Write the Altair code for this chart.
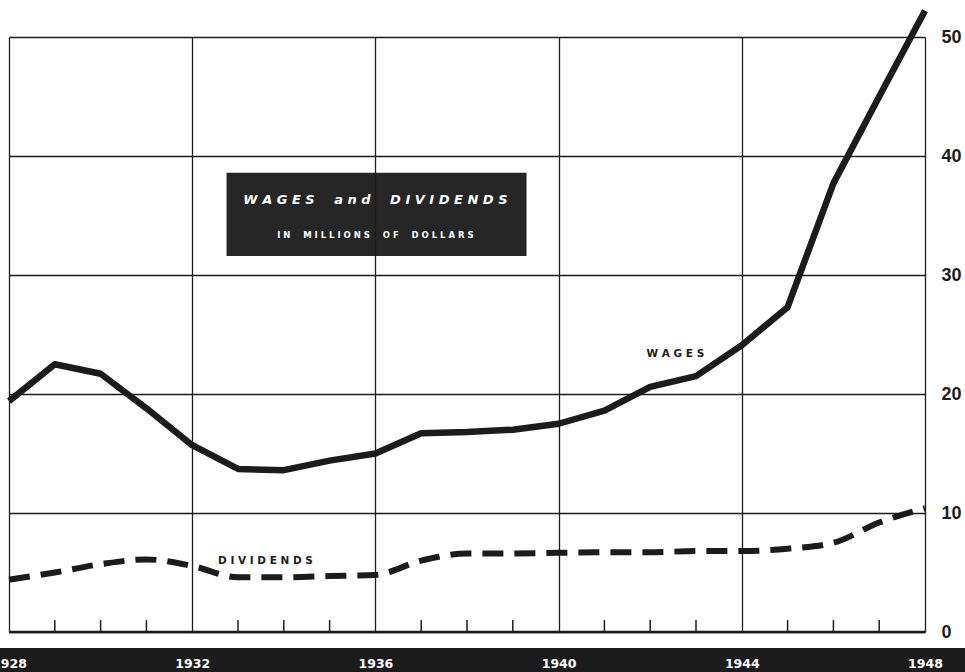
import altair as alt
import pandas as pd

# Annual figures, in millions of dollars
years = list(range(1928, 1949))
wages = [19.4, 22.5, 21.7, 18.8, 15.7, 13.7, 13.6, 14.4, 15.0, 16.7, 16.8,
         17.0, 17.5, 18.6, 20.6, 21.5, 24.1, 27.3, 37.7, 45.0, 52.2]
dividends = [4.4, 5.0, 5.7, 6.1, 5.55, 4.6, 4.6, 4.7, 4.8, 6.0, 6.6,
             6.6, 6.65, 6.7, 6.7, 6.8, 6.8, 7.0, 7.5, 9.2, 10.4]

grid_years = [1928, 1932, 1936, 1940, 1944, 1948]
minor_years = [y for y in years if y not in grid_years]
y_ticks = [0, 10, 20, 30, 40, 50]

INK = "#1c1c1c"
NARROW = "Liberation Sans, Arial, sans-serif"
SANS = "DejaVu Sans, sans-serif"

LETTER_GAP = "\u00a0"
WORD_GAP = "\u2003\u2002"


def spaced(*words):
    return WORD_GAP.join(LETTER_GAP.join(w) for w in words)


df = pd.DataFrame({"year": years, "wages": wages, "dividends": dividends})

x_scale = alt.Scale(domain=[1928, 1948], nice=False, zero=False)
y_scale = alt.Scale(domain=[0, 50], nice=False)

x_enc = alt.X(
    "year:Q",
    scale=x_scale,
    axis=alt.Axis(
        values=grid_years, format="d", title=None, domain=False, ticks=False,
        grid=True, gridColor=INK, gridWidth=1.3, gridOpacity=1,
        labelColor="white", labelFont=SANS, labelFontWeight="bold",
        labelFontSize=12.5, labelPadding=31, labelBaseline="middle",
        labelFlush=False, labelOverlap=False, zindex=2,
    ),
)
y_axis = alt.Axis(
    values=y_ticks, orient="right", title=None, domain=False, ticks=False,
    grid=True, gridColor=INK, gridWidth=1.3, gridOpacity=1,
    labelColor=INK, labelFont=NARROW, labelFontWeight="bold",
    labelFontSize=18, labelPadding=16, labelAlign="left",
    labelFlush=False, labelOverlap=False,
)

# black band behind the year labels
band = alt.Chart(pd.DataFrame({"k": [0]})).mark_rect(color=INK).encode(
    x=alt.value(-9), x2=alt.value(956), y=alt.value(611), y2=alt.value(640)
)

base = alt.Chart(df)

wage_line = base.mark_line(color=INK, strokeWidth=6.5, clip=False,
                           strokeJoin="round").encode(
    x=x_enc,
    y=alt.Y("wages:Q", scale=y_scale, axis=y_axis),
)

div_line = base.mark_line(color=INK, strokeWidth=6, strokeDash=[21, 11],
                          interpolate="monotone").encode(
    x=alt.X("year:Q", scale=x_scale),
    y=alt.Y("dividends:Q", scale=y_scale),
)

# baseline and year ticks
baseline = alt.Chart(pd.DataFrame({"a": [1928], "b": [1948], "v": [0]})).mark_rule(
    color=INK, strokeWidth=2.5
).encode(x=alt.X("a:Q", scale=x_scale), x2="b:Q", y=alt.Y("v:Q", scale=y_scale))

ticks = alt.Chart(pd.DataFrame({"year": minor_years, "lo": 0.0, "hi": 1.0})).mark_rule(
    color=INK, strokeWidth=1.5
).encode(x=alt.X("year:Q", scale=x_scale), y=alt.Y("lo:Q", scale=y_scale), y2="hi:Q")

# title panel
panel = alt.Chart(pd.DataFrame({"x1": [1932.75], "x2": [1939.3],
                                "y1": [31.6], "y2": [38.6]})).mark_rect(
    color="#262626"
).encode(x=alt.X("x1:Q", scale=x_scale), x2="x2:Q",
         y=alt.Y("y1:Q", scale=y_scale), y2="y2:Q")

title1 = alt.Chart(pd.DataFrame({
    "x": [1936.0], "y": [36.3], "t": [spaced("WAGES", "and", "DIVIDENDS")]
})).mark_text(
    color="white", font=SANS, fontSize=13, fontWeight="bold", fontStyle="italic"
).encode(x=alt.X("x:Q", scale=x_scale), y=alt.Y("y:Q", scale=y_scale), text="t:N")

title2 = alt.Chart(pd.DataFrame({
    "x": [1936.0], "y": [33.4], "t": [spaced("IN", "MILLIONS", "OF", "DOLLARS")]
})).mark_text(
    color="white", font=SANS, fontSize=8.5, fontWeight="bold"
).encode(x=alt.X("x:Q", scale=x_scale), y=alt.Y("y:Q", scale=y_scale), text="t:N")

labels = alt.Chart(pd.DataFrame({
    "x": [1942.55, 1933.6],
    "y": [23.4, 5.95],
    "t": [spaced("WAGES"), spaced("DIVIDENDS")],
})).mark_text(color=INK, font=SANS, fontSize=10.5, fontWeight="bold").encode(
    x=alt.X("x:Q", scale=x_scale), y=alt.Y("y:Q", scale=y_scale), text="t:N"
)

chart = alt.layer(
    band, wage_line, div_line, baseline, ticks, panel, title1, title2, labels
).properties(
    width=916, height=595,
    autosize=alt.AutoSizeParams(type="none"),
    padding={"left": 9, "top": 37, "right": 40, "bottom": 40},
    background="white",
).configure_view(stroke=None)

chart.save("out.html", embed_options={"renderer": "svg", "actions": False})
